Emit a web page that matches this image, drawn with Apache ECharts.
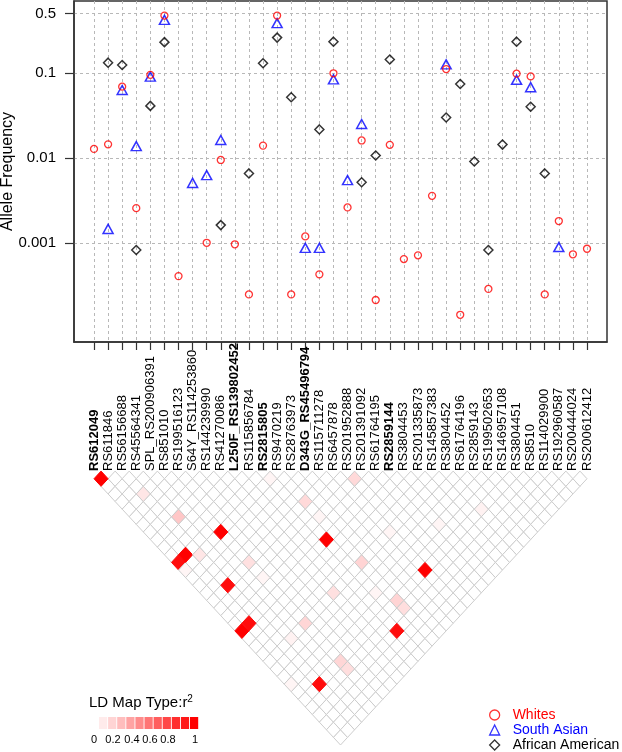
<!DOCTYPE html>
<html><head><meta charset="utf-8">
<script src="https://cdn.jsdelivr.net/npm/echarts@6/dist/echarts.min.js"></script>
<style>html,body{margin:0;padding:0;background:#fff}#c{width:622px;height:752px}</style>
</head><body><div id="c"></div>
<script>
const snps = ['RS612049','RS611846','RS56156688','RS45564341','SPL_RS200906391','RS851010','RS199516123','S64Y_RS114253860','RS144239990','RS41270086','L250F_RS139802452','RS115856784','RS2815805','RS9470219','RS28763973','D343G_RS45496794','RS115711278','RS6457878','RS201952888','RS201391092','RS61764195','RS2859144','RS3804453','RS201335873','RS145857383','RS3804452','RS61764196','RS2859143','RS199502653','RS146957108','RS3804451','RS8510','RS114029900','RS192960587','RS200444024','RS200612412'];
const boldSnps = ['RS612049','L250F_RS139802452','RS2815805','D343G_RS45496794','RS2859144'];
const whites = [0.0128,0.0145,0.069,0.00258,0.095,0.472,0.00041,null,0.00101,0.0095,0.00097,0.00025,0.014,0.472,0.00025,0.0012,0.00043,0.099,0.00263,0.0161,0.000215,0.0143,0.00065,0.00072,0.0036,0.111,0.000144,null,0.00029,null,0.098,0.091,0.00025,0.00182,0.00074,0.00086];
const southAsian = [null,0.00147,0.063,0.0138,0.0905,0.42,null,0.0051,0.0063,0.0163,null,null,null,0.385,null,0.00088,0.00088,0.084,0.0055,0.0251,null,null,null,null,null,0.126,null,null,null,null,0.083,0.068,null,0.0009,null,null];
const africanAmerican = [null,0.132,0.124,0.00083,0.041,0.23,null,null,null,0.00163,null,0.0066,0.13,0.26,0.0518,null,0.0217,0.233,null,0.0052,0.0107,0.144,null,null,null,0.030,0.074,0.0091,0.00083,0.0144,0.233,0.040,0.0066,null,null,null];
const yTickValues = [0.001,0.01,0.1,0.5];
const yTickLabels = ['0.001','0.01','0.1','0.5'];
// LD r^2 (non-zero pairs only, SNP indices)
const ldI  = [0,0,1,5,12,2,0,1,11,17,2, 2,3,13,2,5,18,13,9,13,13,5,5,5, 0,5,12,13,25,21,17,12,3,0];
const ldJ  = [1,12,12,13,21,17,21,21,32,30,30, 5,9,17,13,17,19,25,25,30,31,25,30,31, 13,19,13,19,30,28,25,28,25,28];
const ldR2 = [1,0.95,1,1,1,0.95,1,0.95,0.95,1,0.95, 0.1,0.22,0.15,0.1,0.12,0.15,0.17,0.12,0.17,0.13,0.16,0.16,0.13, 0.04,0.04,0.04,0.04,0.05,0.04,0.04,0.04,0.05,0.04];
const ldLegendSteps = [0.08,0.17,0.26,0.36,0.45,0.54,0.63,0.72,0.82,0.91,1];
const ldLegendLabels = ['0','0.2','0.4','0.6','0.8','1'];

const FONT = 'Liberation Sans, Arial, Helvetica, sans-serif';
const nSnp = snps.length;
const xMin = -1.42, xMax = nSnp - 1 + 1.42;
const yMin = 6.9e-5, yMax = 0.70;
const idxs = snps.map((_, i) => i);
const redOf = v => { const g = Math.round(255 * (1 - v)); return 'rgb(255,' + g + ',' + g + ')'; };

const toPts = arr => arr.map((v, i) => v == null ? null : [i, v]).filter(p => p);

// LD cells
const ldMap = {};
ldI.forEach((a, k) => { ldMap[a + '_' + ldJ[k]] = ldR2[k]; });
const cells0 = [], cells1 = [];
for (let i = 0; i < nSnp; i++) for (let j = i + 1; j < nSnp; j++) {
  const r = ldMap[i + '_' + j] || 0;
  (r > 0 ? cells1 : cells0).push([(i + j) / 2, j - i, r]);
}
const cells = cells0.concat(cells1);

const dash = { type: [3, 3], color: '#b8b8b8', width: 1 };
const chart = echarts.init(document.getElementById('c'), null, { renderer: 'canvas' });

const graphics = [];
graphics.push({ type: 'text', x: 89, y: 703, style: {
  text: '{a|LD Map Type:r}{s|2}', verticalAlign: 'middle', fontFamily: FONT,
  rich: { a: { fontSize: 15, lineHeight: 18, fill: '#000', fontFamily: FONT }, s: { fontSize: 10, lineHeight: 18, verticalAlign: 'top', fill: '#000', fontFamily: FONT } } } });
ldLegendSteps.forEach((v, k) => {
  graphics.push({ type: 'rect', shape: { x: 99 + k * 9.1, y: 717, width: 8.2, height: 12 }, style: { fill: redOf(v) } });
});
const labX = [94, 113, 132, 150, 168, 195];
ldLegendLabels.forEach((t, k) => {
  graphics.push({ type: 'text', x: labX[k], y: 740, style: { text: t, fontSize: 11, fontFamily: FONT, fill: '#000', align: 'center', verticalAlign: 'middle' } });
});

const option = {
  animation: false,
  textStyle: { fontFamily: FONT },
  grid: [
    { left: 74, top: 1, width: 533, height: 341, show: true, borderColor: '#333', borderWidth: 1.5, backgroundColor: 'transparent', containLabel: false, outerBoundsMode: 'none' },
    { left: 74, top: 471.1, width: 533, height: 273.9, show: false, containLabel: false, outerBoundsMode: 'none' }
  ],
  xAxis: [
    { type: 'value', gridIndex: 0, min: xMin, max: xMax,
      axisLine: { show: true, lineStyle: { color: '#333', width: 1.5 } },
      axisTick: { show: true, customValues: idxs, length: 8, lineStyle: { color: '#333', width: 1.2 } },
      axisLabel: { show: true, customValues: idxs, rotate: 90, align: 'left', verticalAlign: 'middle', margin: 129,
        fontSize: 13, color: '#000', fontFamily: FONT,
        formatter: v => { const n = snps[Math.round(v)]; return boldSnps.indexOf(n) >= 0 ? '{b|' + n + '}' : n; },
        rich: { b: { fontWeight: 'bold', fontSize: 13, color: '#000', fontFamily: FONT } } },
      splitLine: { show: true, lineStyle: dash } },
    { type: 'value', gridIndex: 1, min: xMin, max: xMax, show: false }
  ],
  yAxis: [
    { type: 'log', logBase: 10, gridIndex: 0, min: yMin, max: yMax, show: false, position: 'right' },
    { type: 'value', gridIndex: 0, position: 'left', min: Math.log10(yMin), max: Math.log10(yMax),
      axisLine: { show: true, lineStyle: { color: '#333', width: 1.5 } },
      axisTick: { show: true, customValues: yTickValues.map(Math.log10), length: 9, lineStyle: { color: '#333', width: 1.2 } },
      axisLabel: { show: true, customValues: yTickValues.map(Math.log10), margin: 18, fontSize: 15, color: '#000', fontFamily: FONT,
        formatter: v => { const k = yTickValues.findIndex(t => Math.abs(Math.log10(t) - v) < 1e-6); return k >= 0 ? yTickLabels[k] : ''; } },
      splitLine: { show: true, lineStyle: dash },
      name: 'Allele Frequency', nameLocation: 'middle', nameGap: 58, nameMoveOverlap: false,
      nameTextStyle: { fontSize: 16, color: '#000', fontFamily: FONT } },
    { type: 'value', gridIndex: 1, min: 0, max: nSnp, inverse: true, show: false }
  ],
  legend: {
    orient: 'vertical', left: 489, top: 708, padding: 0, itemWidth: 10, itemHeight: 10, itemGap: 1,
    textStyle: { fontSize: 14, fontFamily: FONT, padding: [0, 0, 0, 8] },
    data: [
      { name: 'Whites', icon: 'circle', itemStyle: { color: 'transparent', borderColor: '#ff0000', borderWidth: 1.3 }, textStyle: { color: '#ff0000' } },
      { name: 'South Asian', icon: 'triangle', itemStyle: { color: 'transparent', borderColor: '#0000ff', borderWidth: 1.3 }, textStyle: { color: '#0000ff' } },
      { name: 'African American', icon: 'diamond', itemStyle: { color: 'transparent', borderColor: '#000', borderWidth: 1.3 }, textStyle: { color: '#000' } }
    ]
  },
  graphic: graphics,
  series: [
    { name: 'African American', type: 'scatter', xAxisIndex: 0, yAxisIndex: 0, symbol: 'diamond', symbolSize: 9,
      itemStyle: { color: 'transparent', borderColor: '#000', borderWidth: 1.5 }, data: toPts(africanAmerican) },
    { name: 'South Asian', type: 'scatter', xAxisIndex: 0, yAxisIndex: 0, symbol: 'triangle', symbolSize: [10, 9],
      itemStyle: { color: 'transparent', borderColor: '#0000ff', borderWidth: 1.5 }, data: toPts(southAsian) },
    { name: 'Whites', type: 'scatter', xAxisIndex: 0, yAxisIndex: 0, symbol: 'circle', symbolSize: 7,
      itemStyle: { color: 'transparent', borderColor: '#ff0000', borderWidth: 1.3 }, data: toPts(whites) },
    { name: 'LD', type: 'custom', xAxisIndex: 1, yAxisIndex: 2, encode: { x: 0, y: 1 }, data: cells, silent: true,
      renderItem: (params, api) => {
        const cx = api.value(0), d = api.value(1), v = api.value(2);
        const pts = [api.coord([cx - 0.5, d]), api.coord([cx, d - 1]), api.coord([cx + 0.5, d]), api.coord([cx, d + 1])];
        const fill = redOf(v);
        return { type: 'polygon', shape: { points: pts }, style: { fill: fill, stroke: v > 0.5 ? fill : '#cccccc', lineWidth: 1 } };
      } }
  ]
};
chart.setOption(option);
</script>
</body></html>
